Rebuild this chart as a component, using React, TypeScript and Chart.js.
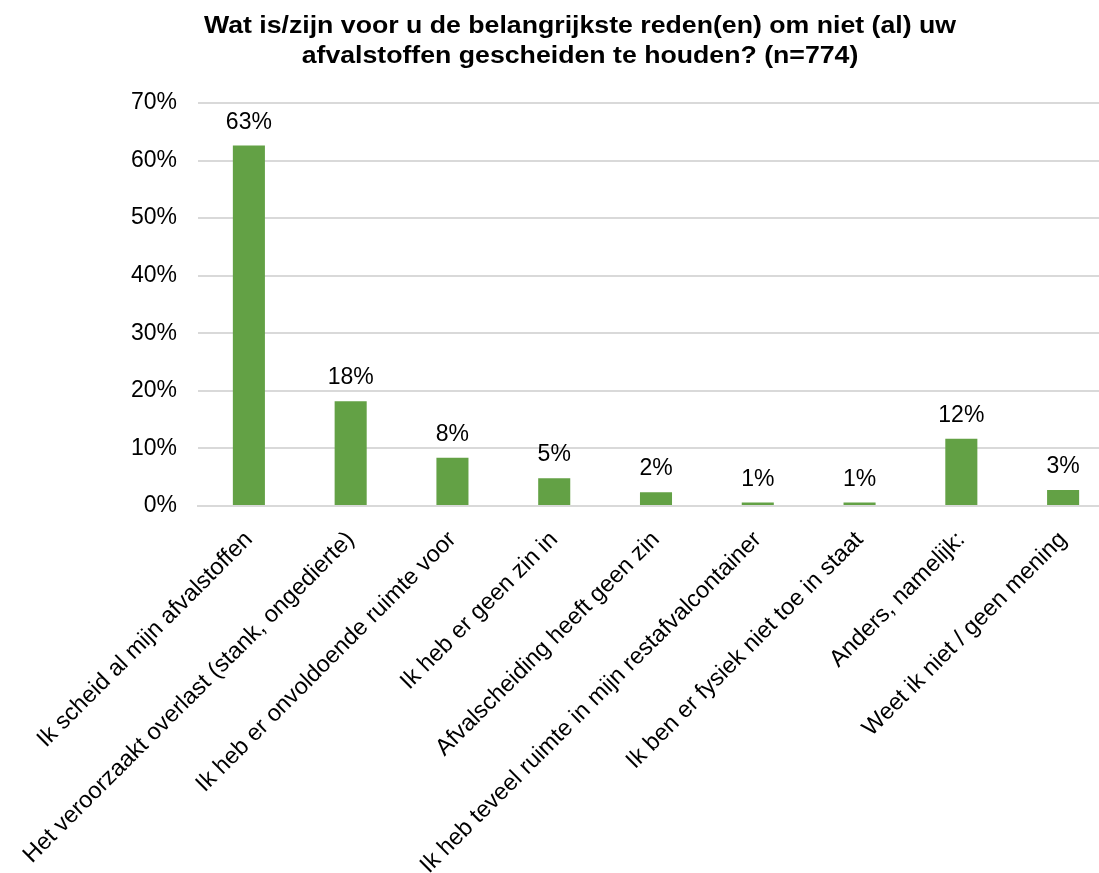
import React, { useEffect, useRef } from "react";
import { Chart, registerables } from "chart.js";

Chart.register(...registerables);

const titleLines = [
  "Wat is/zijn voor u de belangrijkste reden(en) om niet (al) uw",
  "afvalstoffen gescheiden te houden? (n=774)",
];

const categories = [
  "Ik scheid al mijn afvalstoffen",
  "Het veroorzaakt overlast (stank, ongedierte)",
  "Ik heb er onvoldoende ruimte voor",
  "Ik heb er geen zin in",
  "Afvalscheiding heeft geen zin",
  "Ik heb teveel ruimte in mijn restafvalcontainer",
  "Ik ben er fysiek niet toe in staat",
  "Anders, namelijk:",
  "Weet ik niet / geen mening",
];

const values = [62.6, 18.2, 8.4, 4.8, 2.4, 0.6, 0.6, 11.7, 2.8];

const yTicks = [0, 10, 20, 30, 40, 50, 60, 70];

const FONT = "'Liberation Sans', Arial, sans-serif";

const titlePlugin = {
  id: "stretchedTitle",
  afterDraw(chart: any) {
    const ctx = chart.ctx;
    ctx.save();
    ctx.font = `bold 23px ${FONT}`;
    ctx.fillStyle = "#000000";
    ctx.textAlign = "center";
    ctx.textBaseline = "alphabetic";
    const cx = 580;
    const sx = 1.16;
    const baselines = [33, 63];
    titleLines.forEach((line, i) => {
      ctx.save();
      ctx.translate(cx, baselines[i]);
      ctx.scale(sx, 1);
      ctx.fillText(line, 0, 0);
      ctx.restore();
    });
    ctx.restore();
  },
};

const dataLabelPlugin = {
  id: "dataLabels",
  afterDatasetsDraw(chart: any) {
    const ctx = chart.ctx;
    const meta = chart.getDatasetMeta(0);
    ctx.save();
    ctx.font = `23px ${FONT}`;
    ctx.fillStyle = "#000000";
    ctx.textAlign = "center";
    ctx.textBaseline = "alphabetic";
    meta.data.forEach((bar: any, i: number) => {
      const v = chart.data.datasets[0].data[i];
      ctx.fillText(`${Math.round(v)}%`, bar.x, bar.y - 17);
    });
    ctx.restore();
  },
};

export default function App() {
  const ref = useRef<HTMLCanvasElement>(null);
  useEffect(() => {
    if (!ref.current) return;
    const chart = new Chart(ref.current, {
      type: "bar",
      data: {
        labels: categories,
        datasets: [
          {
            data: values,
            backgroundColor: "#63A145",
            borderWidth: 0,
            categoryPercentage: 1,
            barPercentage: 0.315,
          },
        ],
      },
      options: {
        animation: false,
        responsive: false,
        maintainAspectRatio: false,
        layout: { padding: { top: 103, left: 0, right: 46, bottom: 0 } },
        plugins: {
          legend: { display: false },
          tooltip: { enabled: false },
          title: { display: false },
        },
        scales: {
          x: {
            grid: { display: false, drawTicks: false },
            border: { display: true, color: "#D9D9D9", width: 2 },
            ticks: {
              color: "#000000",
              font: { family: FONT, size: 23.5 },
              maxRotation: 45,
              minRotation: 45,
              autoSkip: false,
              padding: 20,
            },
            afterFit: (s: any) => {
              s.height = 873 - 506;
            },
          },
          y: {
            min: 0,
            max: 70,
            afterBuildTicks: (s: any) => {
              s.ticks = yTicks.map((v) => ({ value: v }));
            },
            grid: { color: "#D9D9D9", lineWidth: 2, drawTicks: false },
            border: { display: false },
            ticks: {
              color: "#000000",
              font: { family: FONT, size: 23 },
              padding: 21,
              callback: (v: any) => `${v}%`,
            },
            afterFit: (s: any) => {
              s.width = 198;
            },
          },
        },
      },
      plugins: [dataLabelPlugin, titlePlugin],
    });
    return () => chart.destroy();
  }, []);
  return (
    <div
      style={{
        position: "fixed",
        left: 0,
        top: 0,
        width: 1099,
        height: 873,
        overflow: "hidden",
        background: "#ffffff",
      }}
    >
      <canvas ref={ref} width={1160} height={873} style={{ display: "block" }} />
    </div>
  );
}
